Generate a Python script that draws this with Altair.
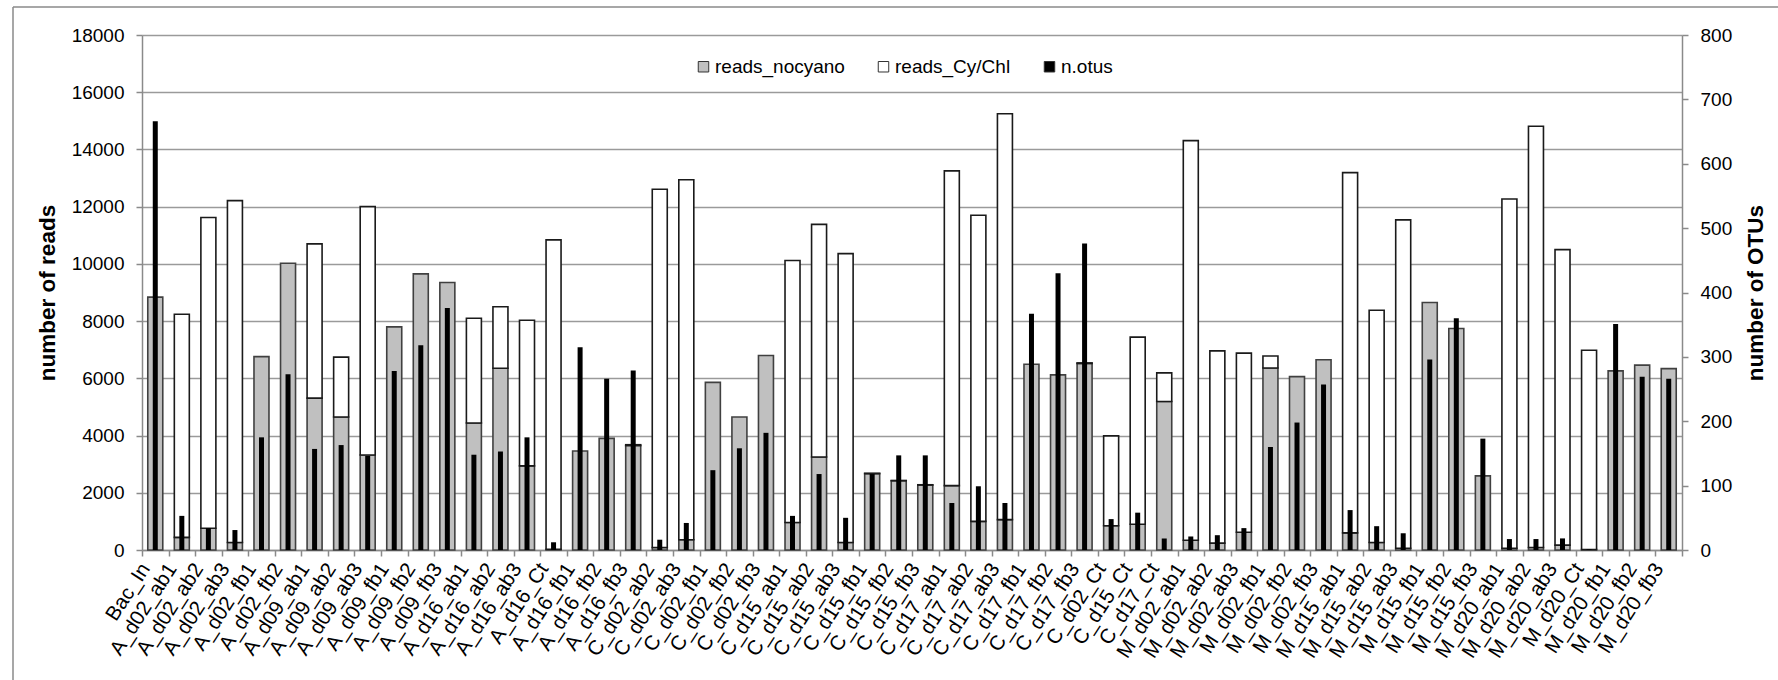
import altair as alt
import pandas as pd

# Sample names in plotting order
samples = [
    "Bac_In", "A_d02_ab1", "A_d02_ab2", "A_d02_ab3", "A_d02_fb1", "A_d02_fb2",
    "A_d09_ab1", "A_d09_ab2", "A_d09_ab3", "A_d09_fb1", "A_d09_fb2", "A_d09_fb3",
    "A_d16_ab1", "A_d16_ab2", "A_d16_ab3", "A_d16_Ct", "A_d16_fb1", "A_d16_fb2",
    "A_d16_fb3", "C_d02_ab2", "C_d02_ab3", "C_d02_fb1", "C_d02_fb2", "C_d02_fb3",
    "C_d15_ab1", "C_d15_ab2", "C_d15_ab3", "C_d15_fb1", "C_d15_fb2", "C_d15_fb3",
    "C_d17_ab1", "C_d17_ab2", "C_d17_ab3", "C_d17_fb1", "C_d17_fb2", "C_d17_fb3",
    "C_d02_Ct", "C_d15_Ct", "C_d17_Ct", "M_d02_ab1", "M_d02_ab2", "M_d02_ab3",
    "M_d02_fb1", "M_d02_fb2", "M_d02_fb3", "M_d15_ab1", "M_d15_ab2", "M_d15_ab3",
    "M_d15_fb1", "M_d15_fb2", "M_d15_fb3", "M_d20_ab1", "M_d20_ab2", "M_d20_ab3",
    "M_d20_Ct", "M_d20_fb1", "M_d20_fb2", "M_d20_fb3",
]

# Reads that are not cyanobacteria / chloroplast
reads_nocyano = [
    8840, 440, 760, 260, 6760, 10020,
    5310, 4650, 3320, 7800, 9650, 9350,
    4440, 6350, 2940, 25, 3460, 3900,
    3650, 90, 360, 5860, 4650, 6800,
    960, 3250, 260, 2670, 2420, 2270,
    2250, 1000, 1060, 6490, 6120, 6520,
    850, 900, 5190, 340, 240, 620,
    6360, 6060, 6650, 600, 260, 60,
    8650, 7740, 2590, 60, 90, 170,
    20, 6260, 6460, 6340,
]

# Cyanobacteria / chloroplast reads
reads_cychl = [
    0, 7800, 10860, 11950, 0, 0,
    5390, 2090, 8680, 0, 0, 0,
    3660, 2150, 5090, 10815, 0, 0,
    30, 12520, 12580, 0, 0, 0,
    9160, 8130, 10100, 10, 10, 10,
    11000, 10700, 14190, 0, 0, 20,
    3140, 6540, 1000, 13970, 6720, 6260,
    420, 0, 0, 12590, 8120, 11480,
    0, 0, 0, 12210, 14720, 10330,
    6960, 0, 0, 0,
]

# Number of OTUs (right axis)
n_otus = [
    666, 53, 34, 31, 175, 273,
    157, 163, 146, 278, 318, 376,
    148, 153, 175, 12, 315, 266,
    279, 16, 42, 124, 158, 182,
    53, 118, 50, 118, 147, 147,
    73, 99, 73, 367, 430, 476,
    48, 58, 18, 21, 23, 34,
    160, 198, 257, 62, 37, 26,
    296, 360, 173, 17, 17, 18,
    1, 351, 269, 266,
]

series_names = ["reads_nocyano", "reads_Cy/Chl", "n.otus"]
series_fill = ["#c0c0c0", "#ffffff", "#000000"]

rows = []
for s, a, b in zip(samples, reads_nocyano, reads_cychl):
    rows.append({"sample": s, "series": "reads_nocyano", "reads": a, "rank": 0})
    rows.append({"sample": s, "series": "reads_Cy/Chl", "reads": b, "rank": 1})
reads_df = pd.DataFrame(rows)
otu_df = pd.DataFrame({"sample": samples, "series": "n.otus", "otus": n_otus})

FONT = "Liberation Sans"
W, H = 1540, 515

x_enc = alt.X(
    "sample:N",
    sort=samples,
    scale=alt.Scale(paddingInner=0, paddingOuter=0),
    axis=alt.Axis(
        title=None,
        labelAngle=-57,
        labelAlign="right",
        labelBaseline="middle",
        labelFontSize=20.5,
        labelFont=FONT,
        labelColor="#000000",
        labelPadding=9,
        labelOffset=-10,
        labelOverlap=False,
        tickBand="extent",
        tickSize=6,
        tickColor="#8a8a8a",
        tickWidth=1.5,
        domainColor="#8a8a8a",
        domainWidth=1.5,
        grid=False,
    ),
)

color_enc = alt.Color(
    "series:N",
    scale=alt.Scale(domain=series_names, range=series_fill),
    legend=alt.Legend(
        title=None,
        orient="none",
        direction="horizontal",
        legendX=552,
        legendY=22,
        symbolType="square",
        symbolSize=110,
        symbolStrokeColor="#333333",
        symbolStrokeWidth=1,
        labelFontSize=19,
        labelFont=FONT,
        labelColor="#000000",
        labelOffset=2,
        columnPadding=29,
    ),
)

reads_layer = (
    alt.Chart(reads_df)
    .transform_filter("datum.reads > 0")
    .mark_bar(size=15, strokeWidth=1.6)
    .encode(
        x=x_enc,
        y=alt.Y(
            "reads:Q",
            stack="zero",
            scale=alt.Scale(domain=[0, 18000], nice=False),
            axis=alt.Axis(
                title="number of reads",
                titleFontSize=22.5,
                titleFont=FONT,
                titleFontWeight="bold",
                titleColor="#000000",
                titleX=-95,
                titleY=H / 2,
                titleAngle=270,
                titleAlign="center",
                titleBaseline="middle",
                values=list(range(0, 18001, 2000)),
                format="d",
                labelFontSize=19,
                labelFont=FONT,
                labelColor="#000000",
                labelPadding=12,
                tickSize=6,
                tickColor="#8a8a8a",
                tickWidth=1.5,
                domainColor="#8a8a8a",
                domainWidth=1.5,
                grid=True,
                gridColor="#9a9a9a",
                gridWidth=1.5,
            ),
        ),
        color=color_enc,
        stroke=alt.Stroke(
            "series:N",
            scale=alt.Scale(domain=["reads_nocyano", "reads_Cy/Chl"], range=["#404040", "#1a1a1a"]),
            legend=None,
        ),
        order=alt.Order("rank:Q"),
    )
)

otu_layer = (
    alt.Chart(otu_df)
    .mark_bar(size=5)
    .encode(
        x=x_enc,
        y=alt.Y(
            "otus:Q",
            scale=alt.Scale(domain=[0, 800], nice=False),
            axis=alt.Axis(
                orient="right",
                title="number of OTUs",
                titleFontSize=22.5,
                titleFont=FONT,
                titleFontWeight="bold",
                titleColor="#000000",
                titleX=73,
                titleY=H / 2,
                titleAngle=270,
                titleAlign="center",
                titleBaseline="middle",
                values=list(range(0, 801, 100)),
                format="d",
                labelFontSize=19,
                labelFont=FONT,
                labelColor="#000000",
                labelPadding=12,
                tickSize=6,
                tickColor="#8a8a8a",
                tickWidth=1.5,
                domainColor="#8a8a8a",
                domainWidth=1.5,
                grid=False,
            ),
        ),
        color=color_enc,
    )
)

# Outer figure frame (left and top edges)
frame_left = alt.Chart(pd.DataFrame({"k": [0]})).mark_rule(color="#8a8a8a", strokeWidth=1.5).encode(
    x=alt.value(-129), y=alt.value(-28), y2=alt.value(700)
)
frame_top = alt.Chart(pd.DataFrame({"k": [0]})).mark_rule(color="#8a8a8a", strokeWidth=1.5).encode(
    x=alt.value(-129), x2=alt.value(1700), y=alt.value(-28)
)

chart = (
    alt.layer(reads_layer, otu_layer, frame_left, frame_top)
    .resolve_scale(y="independent")
    .properties(
        width=W,
        height=H,
        padding={"left": 142, "top": 35, "right": 96, "bottom": 130},
        autosize=alt.AutoSizeParams(type="none"),
        background="#ffffff",
    )
    .configure_view(stroke=None)
)

chart.save("out.html", embed_options={"renderer": "svg", "actions": False})
